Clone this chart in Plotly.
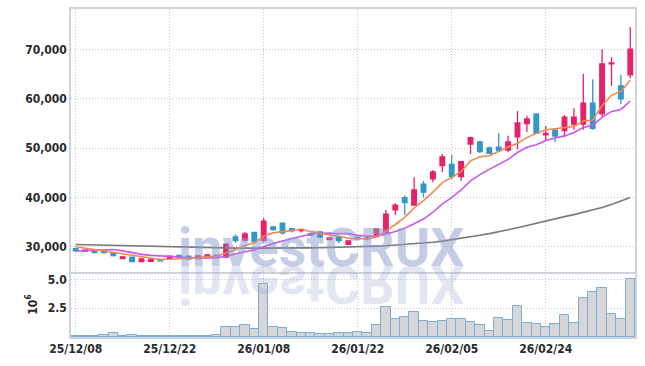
import plotly.graph_objects as go

# ---- data ----
dates = ["25/12/08", "25/12/09", "25/12/10", "25/12/11", "25/12/12", "25/12/15", "25/12/16", "25/12/17",
         "25/12/18", "25/12/19", "25/12/22", "25/12/23", "25/12/24", "25/12/26", "25/12/29", "25/12/30",
         "26/01/02", "26/01/05", "26/01/06", "26/01/07", "26/01/08", "26/01/09", "26/01/12", "26/01/13",
         "26/01/14", "26/01/15", "26/01/16", "26/01/19", "26/01/20", "26/01/21", "26/01/22", "26/01/23",
         "26/01/26", "26/01/27", "26/01/28", "26/01/29", "26/01/30", "26/02/02", "26/02/03", "26/02/04",
         "26/02/05", "26/02/06", "26/02/09", "26/02/10", "26/02/11", "26/02/12", "26/02/13", "26/02/19",
         "26/02/20", "26/02/23", "26/02/24", "26/02/25", "26/02/26", "26/02/27", "26/03/03", "26/03/04",
         "26/03/05", "26/03/06", "26/03/09", "26/03/10"]

open_ = [29600, 29350, 29270, 29200, 28800, 27600, 27900, 27000, 27050, 27400,
         27600, 28250, 28100, 27600, 27950, 28300, 27900, 32000, 31350, 32900,
         31300, 34000, 34800, 33650, 33250, 32650, 33000, 31450, 31950, 30500,
         31900, 31650, 32050, 32850, 37450, 39950, 38450, 42700, 43750, 46450,
         46700, 44200, 50800, 51250, 50050, 50200, 49600, 52300, 54950, 56900,
         52700, 53650, 53550, 54850, 54850, 59100, 56950, 67100, 62600, 64850]
high = [29700, 29400, 29350, 29250, 28900, 28050, 27950, 27700, 27550, 27450,
        28200, 28350, 28150, 28250, 28500, 28400, 30700, 32500, 33000, 32950,
        35800, 34200, 34850, 33750, 33550, 32800, 33100, 31900, 32000, 31300,
        32000, 32000, 33700, 37450, 38800, 40400, 44100, 43300, 45550, 48800,
        48600, 47450, 52300, 51500, 50300, 53000, 52500, 57500, 56550, 57100,
        54500, 54000, 56700, 58050, 65000, 63950, 70050, 68400, 64800, 74500]
low = [29100, 29000, 28600, 28550, 28000, 27500, 26950, 26850, 26950, 27100,
       27550, 27850, 27400, 27500, 27900, 28000, 27850, 30800, 31000, 30950,
       30900, 33250, 32400, 32900, 32900, 32100, 31700, 31350, 30700, 30400,
       31300, 31300, 31900, 32700, 36450, 36450, 38300, 40000, 43050, 45100,
       43700, 43350, 48800, 49000, 48800, 49250, 49150, 49750, 53250, 52900,
       51650, 51200, 52200, 53700, 53700, 53700, 56350, 62600, 58950, 64150]
close = [29150, 29050, 28800, 28800, 28200, 27950, 27000, 27550, 27450, 27150,
         28100, 27950, 27500, 28150, 28350, 28100, 30500, 31250, 32600, 31050,
         35200, 33450, 32800, 33200, 33350, 32350, 31950, 31800, 31250, 31200,
         31600, 31750, 33600, 36600, 38450, 38950, 41500, 41050, 45150, 48200,
         44200, 47250, 52100, 49300, 48950, 49500, 51250, 55100, 55900, 53000,
         53000, 52450, 56250, 56250, 59100, 54000, 67050, 67250, 60000, 70050]

ma5 = [30000, 29700, 29400, 29150, 28850, 28550, 28200, 27900, 27650, 27400,
       27450, 27620, 27650, 27780, 28000, 28050, 28650, 29400, 30250, 30800,
       32150, 32800, 33080, 33250, 33580, 33020, 32700, 32480, 32120, 31720,
       31580, 31560, 31980, 33150, 34500, 35950, 37850, 39350, 41050, 43000,
       44050, 45250, 47400, 48250, 48450, 49400, 50230, 50950, 52120, 52980,
       53720, 53920, 54170, 54400, 55480, 55700, 58600, 60750, 61480, 63750]
ma10 = [29130, 29230, 29330, 29430, 29420, 29150, 28750, 28450, 28250, 28110,
        28000, 27900, 27770, 27700, 27720, 27740, 28080, 28450, 28970, 29360,
        30070, 30620, 31150, 31650, 32150, 32570, 32720, 32770, 32640, 32650,
        32290, 32120, 32200, 32540, 33060, 33720, 34670, 35600, 36990, 38690,
        39950, 41500, 43350, 44620, 45670, 46720, 47700, 49100, 50180, 50660,
        51540, 52060, 52470, 53170, 54180, 54630, 56210, 57430, 57840, 59540]
ma60 = [30450, 30400, 30360, 30320, 30280, 30240, 30200, 30150, 30100, 30050,
        30000, 29950, 29900, 29850, 29800, 29760, 29740, 29720, 29710, 29700,
        29700, 29700, 29710, 29720, 29740, 29760, 29790, 29820, 29860, 29900,
        29960, 30030, 30110, 30200, 30310, 30430, 30560, 30700, 30900, 31130,
        31400, 31700, 32000, 32320, 32650, 33000, 33420, 33860, 34320, 34800,
        35300, 35700, 36100, 36500, 36950, 37400, 37950, 38550, 39250, 40000]

volume_m = [0.05, 0.05, 0.05, 0.2, 0.32, 0.05, 0.2, 0.05, 0.05, 0.12,
            0.12, 0.05, 0.05, 0.12, 0.12, 0.2, 0.87, 0.87, 1.07, 0.72,
            4.65, 0.87, 0.78, 0.46, 0.38, 0.38, 0.29, 0.29, 0.38, 0.38,
            0.4, 0.32, 1.07, 2.65, 1.6, 1.77, 2.2, 1.42, 1.34, 1.42,
            1.6, 1.6, 1.34, 1.07, 0.55, 1.69, 1.51, 2.73, 1.25, 1.16,
            0.9, 1.16, 1.94, 1.25, 3.43, 3.95, 4.3, 2.03, 1.6, 5.08]

price_ticks = [30000, 40000, 50000, 60000, 70000]
volume_ticks = [2.5, 5.0]
date_ticks = dates[::10]

# ---- styling ----
RED = "#E8206A"
BLUE = "#3497C8"
GRID = "#c2c6dd"
GRIDDASH = "1px,2px"
AXLINE = "#d2d3da"
TICKFONT = dict(family="DejaVu Sans Condensed, Roboto, sans-serif",
                size=12, color="#2a2a2a", weight="bold")

fig = go.Figure()

fig.add_trace(go.Candlestick(
    x=dates, open=open_, high=high, low=low, close=close,
    increasing=dict(line=dict(color=RED, width=1.3), fillcolor=RED),
    decreasing=dict(line=dict(color=BLUE, width=1.3), fillcolor=BLUE),
    xaxis="x", yaxis="y", showlegend=False, hoverinfo="skip"))

for vals, col in [(ma60, "#7a7a7a"), (ma10, "#CC55EE"), (ma5, "#F0884E")]:
    fig.add_trace(go.Scatter(x=dates, y=vals, mode="lines",
                             line=dict(color=col, width=1.6),
                             xaxis="x", yaxis="y", showlegend=False, hoverinfo="skip"))

fig.add_trace(go.Bar(
    x=dates, y=volume_m, marker=dict(color="#d6d6d6", line=dict(color="#7aaed8", width=1)),
    xaxis="x2", yaxis="y2", showlegend=False, hoverinfo="skip"))

split = (337 - 272) / 328

common_x = dict(type="category", categoryorder="array", categoryarray=dates,
                range=[-0.5, len(dates) - 0.5], tickvals=date_ticks,
                showgrid=True, gridcolor=GRID, griddash=GRIDDASH, gridwidth=1,
                showline=True, linecolor=AXLINE, linewidth=1.5,
                ticks="", zeroline=False, fixedrange=True, automargin=False)

fig.update_layout(
    width=645, height=366,
    margin=dict(l=71, r=10, t=9, b=29),
    paper_bgcolor="white", plot_bgcolor="white",
    bargap=0,
    xaxis=dict(**common_x, anchor="y", showticklabels=False, mirror=True,
               rangeslider=dict(visible=False)),
    xaxis2=dict(**common_x, anchor="y2", matches="x", showticklabels=True,
                mirror=False, tickfont=TICKFONT),
    yaxis=dict(domain=[split, 1], range=[24870, 78200], tickvals=price_ticks,
               tickformat=",d", tickfont=TICKFONT, showgrid=True, gridcolor=GRID,
               griddash=GRIDDASH, showline=True, linecolor=AXLINE, linewidth=1.5,
               mirror=True, ticks="", zeroline=False, fixedrange=True, automargin=False),
    yaxis2=dict(domain=[0, split], range=[0, 5.65], tickvals=volume_ticks,
                tickformat=".1f", tickfont=TICKFONT, showgrid=True, gridcolor=GRID,
                griddash=GRIDDASH, showline=True, linecolor=AXLINE, linewidth=1.5,
                mirror=True, ticks="", zeroline=False, fixedrange=True, automargin=False,
                title=dict(text="10<sup>6</sup>", font=TICKFONT, standoff=8)),
    annotations=[
        dict(text="investCRUX", xref="paper", yref="paper", x=0.4433, y=0.172,
             xanchor="center", yanchor="bottom", showarrow=False,
             font=dict(family="Roboto, Liberation Sans, sans-serif", size=54,
                       color="rgba(140,155,205,0.5)", weight="bold")),
        dict(text="investCRUX", xref="paper", yref="paper", x=0.4433, y=0.172,
             xanchor="center", yanchor="bottom", showarrow=False,
             font=dict(family="Roboto, Liberation Sans, sans-serif", size=54,
                       color="rgba(140,155,205,0.25)", weight="bold")),
    ],
)

post = """
document.body.style.margin = '0';
document.body.style.padding = '0';
var gd = document.getElementById('{plot_id}');
function flipWM(){
  var g = gd.querySelector('.annotation[data-index="1"]');
  if(!g) return;
  var t = g.querySelector('text.annotation-text');
  if(!t) return;
  var y = parseFloat(t.getAttribute('y')) || 0;
  t.setAttribute('transform', 'matrix(1,0,0,-1,0,' + (2*y) + ')');
}
flipWM();
gd.on('plotly_afterplot', flipWM);
"""

fig.write_html("out.html", config={"displayModeBar": False}, post_script=post)
